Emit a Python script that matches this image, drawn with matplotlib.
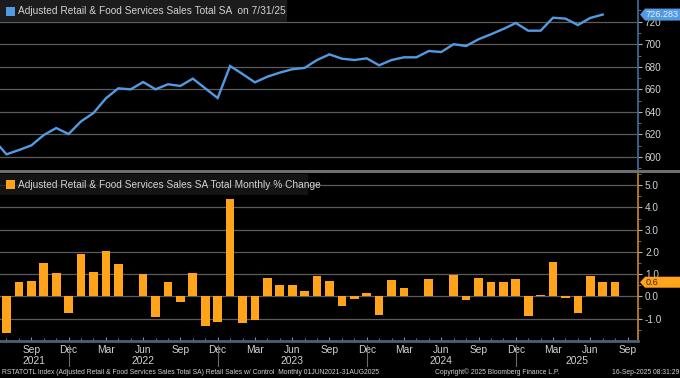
import matplotlib
matplotlib.use("Agg")
import matplotlib.pyplot as plt
from matplotlib.patches import Rectangle, Polygon
from matplotlib.lines import Line2D
import matplotlib.transforms as mtransforms

plt.rcParams['font.family'] = ['Liberation Sans', 'DejaVu Sans']
LEG_FS = 7.3

# ---------------- data ----------------
# month index: 0 = Jun 2021 ... 50 = Aug 2025
sales_months = list(range(0, 50))  # Jun 2021 .. Jul 2025
sales = [615.0, 602.4, 606.2, 610.3, 619.5, 625.7, 620.4, 631.6, 639.0, 652.0,
         660.9, 660.0, 666.5, 660.0, 664.5, 663.0, 669.5, 660.9, 652.3, 680.7,
         673.6, 666.2, 671.2, 674.8, 677.8, 679.0, 686.0, 691.0, 687.2, 686.0,
         687.5, 681.3, 686.0, 688.4, 688.4, 694.0, 693.1, 700.0, 698.4, 704.4,
         708.8, 713.5, 718.8, 712.0, 712.0, 723.5, 722.7, 717.0, 723.3, 726.283]

pct_months = list(range(1, 51))  # Jul 2021 .. Aug 2025
pct = [-1.64, 0.64, 0.70, 1.49, 1.04, -0.76, 1.89, 1.09, 2.06, 1.46,
       0.02, 0.99, -0.93, 0.64, -0.23, 1.04, -1.34, -1.13, 4.39, -1.17,
       -1.06, 0.84, 0.53, 0.50, 0.23, 0.94, 0.70, -0.44, -0.11, 0.14,
       -0.83, 0.74, 0.36, 0.02, 0.80, 0.01, 0.96, -0.17, 0.83, 0.67,
       0.67, 0.79, -0.86, 0.07, 1.54, -0.07, -0.76, 0.91, 0.64, 0.64]

month_tick_idx = list(range(3, 52, 3))
month_tick_labels = ["Sep", "Dec", "Mar", "Jun"] * 4 + ["Sep"]
year_labels = ["2021", "2022", "2023", "2024", "2025"]
year_breaks = [6, 18, 30, 42]

top_yticks = [600, 620, 640, 660, 680, 700, 720]
bot_yticks = [-1.0, 0.0, 1.0, 2.0, 3.0, 4.0, 5.0]

title_top = "Adjusted Retail & Food Services Sales Total SA  on 7/31/25"
title_bot = "Adjusted Retail & Food Services Sales SA Total Monthly % Change"
footer_left = "RSTATOTL Index (Adjusted Retail & Food Services Sales Total SA) Retail Sales w/ Control  Monthly 01JUN2021-31AUG2025"
footer_mid = "Copyright\u00a9 2025 Bloomberg Finance L.P."
footer_right = "16-Sep-2025 08:31:29"

# ---------------- style ----------------
W, H = 680, 378
BG = "black"
BLUE = "#529be2"
ORANGE = "#ffa31a"
GRID = "#5c5c5c"
TXT = "#d2d2d2"

fig = plt.figure(figsize=(W / 100, H / 100), dpi=100, facecolor=BG)


def fx(x):
    return x / W


def fy(y):
    return 1 - y / H


XL = (0.477, 51.84)
ax1 = fig.add_axes([0, fy(170), fx(638), 170 / H], facecolor=BG)
ax2 = fig.add_axes([0, fy(341), fx(638), (341 - 174) / H], facecolor=BG)

for ax in (ax1, ax2):
    ax.set_xlim(*XL)
    for s in ("left", "top", "bottom"):
        ax.spines[s].set_visible(False)
    ax.yaxis.tick_right()
    ax.set_axisbelow(True)
    ax.grid(axis="y", color=GRID, lw=0.9)
    ax.grid(axis="x", visible=False)

# top panel
ax1.plot(sales_months, sales, color=BLUE, lw=1.7, solid_joinstyle="miter", zorder=3)
ax1.set_ylim(588.5, 739.2)
ax1.set_yticks(top_yticks)
ax1.set_yticklabels([str(v) for v in top_yticks])
ax1.set_yticks([v + 10 for v in top_yticks] + [590], minor=True)
ax1.spines["right"].set_color("#3f6fa8")
ax1.spines["right"].set_linewidth(1.2)
ax1.tick_params(axis="y", which="major", colors=TXT, labelsize=7.2, length=3, pad=2,
                color="#aab8c8")
ax1.tick_params(axis="y", which="minor", length=2, color="#6a7f99")
ax1.tick_params(axis="x", which="both", bottom=False, labelbottom=False)

# bottom panel
ax2.bar(pct_months, pct, width=0.70, color=ORANGE, zorder=3)
ax2.set_ylim(-2.0, 5.16)
ax2.set_yticks(bot_yticks)
ax2.set_yticklabels([f"{v:.1f}" for v in bot_yticks])
ax2.set_yticks([v + 0.5 for v in bot_yticks] + [-1.5], minor=True)
ax2.spines["right"].set_color("#c98a22")
ax2.spines["right"].set_linewidth(1.2)
ax2.spines["bottom"].set_visible(True)
ax2.spines["bottom"].set_color("#4c6079")
ax2.spines["bottom"].set_linewidth(2.0)
ax2.tick_params(axis="y", which="major", colors=TXT, labelsize=7.2, length=3, pad=2,
                color="#d8b070")
ax2.tick_params(axis="y", which="minor", length=2, color="#9a7a40")
ax2.set_xticks(month_tick_idx)
ax2.set_xticklabels(month_tick_labels)
ax2.set_xticks(list(range(1, 52)), minor=True)
ax2.tick_params(axis="x", which="major", colors=TXT, labelsize=7.4, length=3, pad=3,
                color="#7d8ea5", direction="in")
ax2.tick_params(axis="x", which="minor", length=2, color="#7d8ea5", direction="in")

# year labels and separators
trans = mtransforms.blended_transform_factory(ax2.transData, fig.transFigure)
bounds = [XL[0]] + year_breaks + [XL[1]]
for i, lab in enumerate(year_labels):
    xc = (bounds[i] + bounds[i + 1]) / 2
    fig.text(xc, fy(361.5), lab, transform=trans, ha="center", va="center",
             color=TXT, fontsize=7.4)
for xb in year_breaks:
    fig.add_artist(Line2D([xb, xb], [fy(345), fy(366)], transform=trans,
                          color="#6b6b6b", lw=0.8))

# separator between panels
fig.add_artist(Rectangle((0, fy(173)), 1, 3 / H, transform=fig.transFigure,
                         color="#6e6e6e", lw=0))

# legend boxes
fig.add_artist(Rectangle((0, fy(22)), fx(287), 22 / H, transform=fig.transFigure,
                         facecolor="#1c1c1c", edgecolor="none", zorder=5))
fig.add_artist(Rectangle((fx(6), fy(16)), fx(9), 9 / H, transform=fig.transFigure,
                         facecolor=BLUE, edgecolor="none", zorder=6))
fig.text(fx(18), fy(11.5), title_top, color=TXT, fontsize=LEG_FS, va="center",
         ha="left", zorder=7)

fig.add_artist(Rectangle((0, fy(195)), fx(308), 21 / H, transform=fig.transFigure,
                         facecolor="#1c1c1c", edgecolor="none", alpha=0.75, zorder=5))
fig.add_artist(Rectangle((fx(6), fy(189.5)), fx(9), 9 / H, transform=fig.transFigure,
                         facecolor=ORANGE, edgecolor="none", zorder=6))
fig.text(fx(18), fy(185), title_bot, color=TXT, fontsize=LEG_FS, va="center",
         ha="left", zorder=7)


# value tags
def tag(ax, value, text, face, tcolor, h=6):
    fig.canvas.draw()
    _, ydisp = ax.transData.transform((0, value))
    ypx = H - ydisp
    pts = [(640, ypx), (645, ypx - h), (681, ypx - h), (681, ypx + h), (645, ypx + h)]
    fig.add_artist(Polygon([(fx(a), fy(b)) for a, b in pts], closed=True,
                           transform=fig.transFigure, facecolor=face,
                           edgecolor="none", zorder=8))
    fig.text(fx(646), fy(ypx), text, color=tcolor, fontsize=6.6, va="center",
             ha="left", zorder=9)


tag(ax1, sales[-1], f"{sales[-1]:.3f}", BLUE, "#e6eef8")
tag(ax2, pct[-1], f"{pct[-1]:.1f}", ORANGE, "#3a2a10", h=5.5)

# footer
fig.text(fx(2), fy(372), footer_left, color=TXT, fontsize=4.9, va="center", ha="left")
fig.text(fx(497), fy(372), footer_mid, color=TXT, fontsize=4.9, va="center", ha="center")
fig.text(fx(679), fy(372), footer_right, color=TXT, fontsize=4.9, va="center", ha="right")

fig.savefig("out.png", dpi=100, facecolor=BG)
